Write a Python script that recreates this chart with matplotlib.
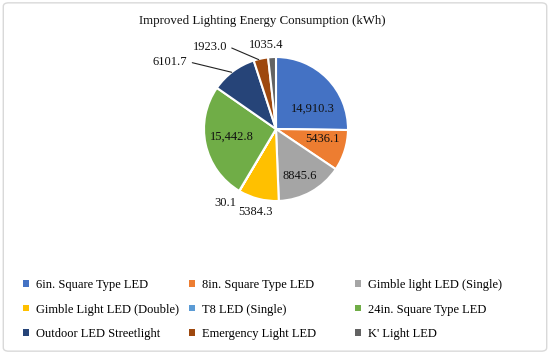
import numpy as np
import matplotlib.pyplot as plt
from matplotlib.patches import FancyBboxPatch, Patch

categories = ['6in. Square Type LED', '8in. Square Type LED', 'Gimble light LED (Single)',
              'Gimble Light LED (Double)', 'T8 LED (Single)', '24in. Square Type LED',
              'Outdoor LED Streetlight', 'Emergency Light LED', "K' Light LED"]
values = [14910.3, 5436.1, 8845.6, 5384.3, 30.1, 15442.8, 6101.7, 1923.0, 1035.4]
value_labels = ['14,910.3', '5436.1', '8845.6', '5384.3', '30.1', '15,442.8', '6101.7', '1923.0', '1035.4']
colors = ['#4472C4', '#ED7D31', '#A5A5A5', '#FFC000', '#5B9BD5', '#70AD47', '#264478', '#9E480E', '#636363']

# label placement (pie radius = 1)
label_pos = [(0.51, 0.28), (0.65, -0.14), (0.33, -0.65), (-0.28, -1.15), (-0.71, -1.03),
             (-0.61, -0.11), (-1.47, 0.93), (-0.92, 1.14), (-0.14, 1.17)]
leader = [False, False, False, False, False, False, True, True, False]

plt.rcParams['font.family'] = ['Liberation Serif', 'DejaVu Serif']

fig = plt.figure(figsize=(5.5, 3.54), dpi=100)
fig.patches.append(FancyBboxPatch((0.006, 0.008), 0.988, 0.984, boxstyle='round,pad=0,rounding_size=0.01',
                                  transform=fig.transFigure, facecolor='none', edgecolor='#d9d9d9', lw=1,
                                  zorder=-1))

ax = fig.add_axes([(276 - 72) / 550, 1 - (129 + 72) / 354, 144 / 550, 144 / 354])
wedges, _ = ax.pie(values, colors=colors, startangle=90, counterclock=False, radius=1,
                   wedgeprops=dict(edgecolor='white', linewidth=1.5))
ax.set_xlim(-1, 1)
ax.set_ylim(-1, 1)
ax.set_aspect('equal')

for w, lab, (x, y), ld in zip(wedges, value_labels, label_pos, leader):
    ax.text(x, y, lab, ha='center', va='center', fontsize=9, color='#111111', clip_on=False)
    if ld:
        mid = np.deg2rad((w.theta1 + w.theta2) / 2)
        ax.annotate('', xy=(0.97 * np.cos(mid), 0.97 * np.sin(mid)), xytext=(x + 0.27, y),
                    arrowprops=dict(arrowstyle='-', color='#222222', lw=0.8),
                    annotation_clip=False)

fig.text(262 / 550, 1 - 21 / 354, 'Improved Lighting Energy Consumption (kWh)', ha='center', va='center',
         fontsize=9.3, color='#111111')

# legend: three columns, filled row by row
handles = [Patch(facecolor=c, edgecolor='none') for c in colors]
col_x = [23, 189, 355]
for c in range(3):
    idx = [c, c + 3, c + 6]
    fig.legend([handles[i] for i in idx], [categories[i] for i in idx], loc='upper left',
               bbox_to_anchor=(col_x[c] / 550, 1 - 279 / 354), ncol=1,
               frameon=False, fontsize=9, handlelength=0.45, handleheight=0.45, handletextpad=0.55,
               labelspacing=1.0, borderaxespad=0, borderpad=0)

fig.savefig('out.png', dpi=100)
